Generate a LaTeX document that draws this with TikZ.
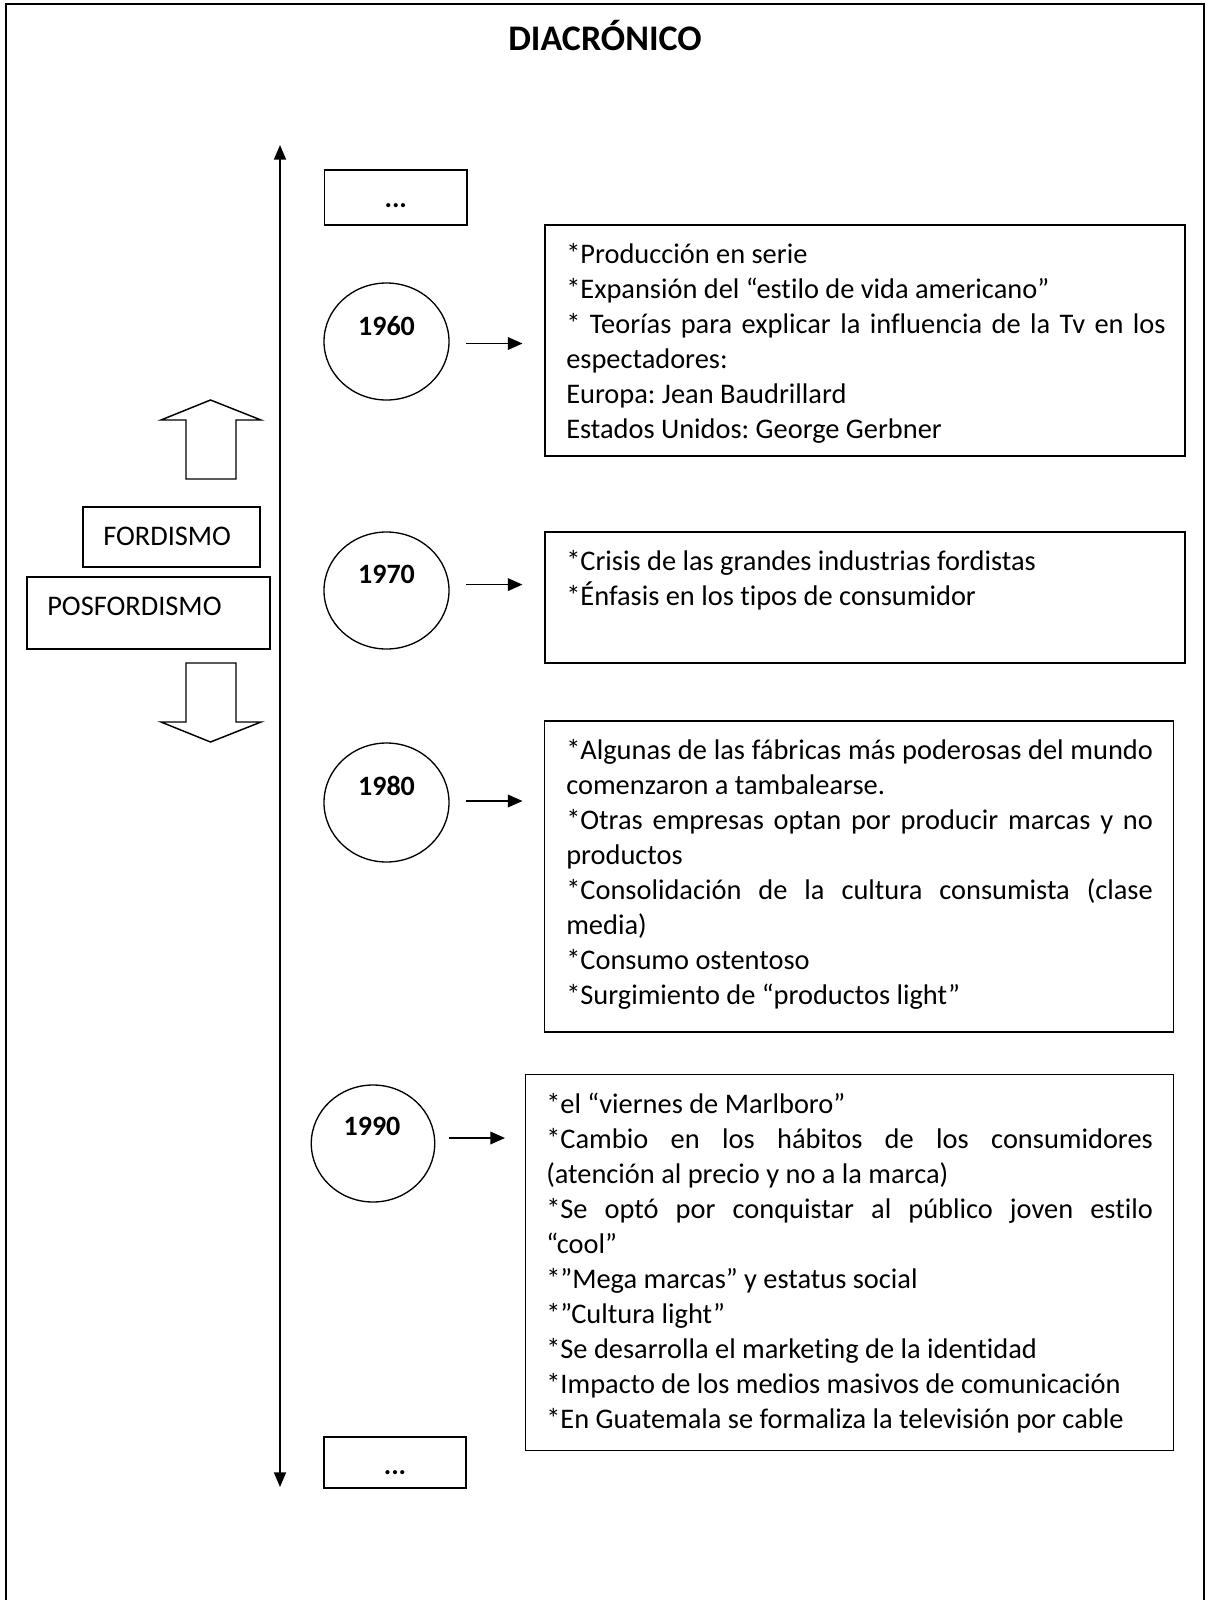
\documentclass[tikz,border=0pt]{standalone}
\usepackage{fontspec}
\setmainfont{Carlito}[Ligatures=NoCommon]
\usetikzlibrary{arrows.meta,shapes.geometric}
\newcommand{\jline}[1]{\makebox[\linewidth][s]{#1}}
\newcommand{\nl}{\par}
\begin{document}
\frenchspacing
\begin{tikzpicture}[x=0.75pt,y=-0.75pt,
  box/.style={draw, line width=1.1pt, rectangle, inner sep=0pt},
  oval/.style={draw, ellipse, line width=1pt, inner sep=0pt},
  body/.style={anchor=base west, inner sep=0pt, font=\fontsize{21.3}{26.3}\selectfont},
  yeartext/.style={anchor=base, inner sep=0pt, font=\fontsize{21}{24}\selectfont\bfseries},
  lbl/.style={anchor=base west, inner sep=0pt, font=\fontsize{21.3}{24}\selectfont},
  conn/.style={line width=1.1pt, -{Triangle[length=11pt,width=9.5pt]}},
  timeline/.style={line width=1.2pt, {Triangle[length=11pt,width=9pt]}-{Triangle[length=11pt,width=9pt]}},
  blockarrow/.style={draw, line width=1.1pt, line join=miter}]
\useasboundingbox (0,0) rectangle (1208,1600);
% outer frame (open at the bottom)
\draw[line width=1.5pt] (6,1600) -- (6,4) -- (1204,4) -- (1204,1600);
% title
\node[anchor=base, inner sep=0pt, font=\fontsize{27}{30}\selectfont\bfseries] (title) at (605,50) {DIACRÓNICO};
% timeline
\coordinate (tlTop) at (280,145);
\coordinate (tlBot) at (280,1487);
\draw[timeline] (tlBot) -- (tlTop);
% dots boxes
\node[box, minimum width=106.9pt, minimum height=41.25pt] (dtop) at (395.75,197.5) {};
\node[yeartext] (dtoptext) at (395.75,207) {...};
\node[box, minimum width=106.5pt, minimum height=38.25pt] (dbot) at (395,1462.5) {};
\node[yeartext] (dbottext) at (395,1474) {...};
% ellipses
\node[oval, minimum width=93.75pt, minimum height=87.75pt] (e1960) at (386.5,341.5) {};
\node[yeartext] (y1960) at (386.5,335.5) {1960};
\node[oval, minimum width=93.75pt, minimum height=87.75pt] (e1970) at (386.5,590.5) {};
\node[yeartext] (y1970) at (386.5,583.5) {1970};
\node[oval, minimum width=93.75pt, minimum height=89.25pt] (e1980) at (386.5,802.5) {};
\node[yeartext] (y1980) at (386.5,795) {1980};
\node[oval, minimum width=92.6pt, minimum height=87.75pt] (e1990) at (373,1143.5) {};
\node[yeartext] (y1990) at (372,1135) {1990};
% content boxes
\node[box, minimum width=480pt, minimum height=173.25pt] (b1960) at (865,340.5) {};
\node[box, minimum width=480pt, minimum height=98.25pt] (b1970) at (865,597.5) {};
\node[box, minimum width=471.75pt, minimum height=233.25pt] (b1980) at (859,876.5) {};
\node[box, minimum width=486pt, minimum height=282pt] (b1990) at (849.5,1262.5) {};
% connectors
\coordinate (a1s) at (466,343.5); \coordinate (a1e) at (522.5,343.5);
\coordinate (a2s) at (466,584.6); \coordinate (a2e) at (522.5,584.6);
\coordinate (a3s) at (466,801);   \coordinate (a3e) at (522.5,801);
\coordinate (a4s) at (448.5,1138); \coordinate (a4e) at (505,1138);
\draw[conn] (a1s) -- (a1e);
\draw[conn] (a2s) -- (a2e);
\draw[conn] (a3s) -- (a3e);
\draw[conn] (a4s) -- (a4e);
% texts
\node[body] (t1960) at (566,263) {\parbox[t]{449.6pt}{\parindent=0pt\frenchspacing
*Producción en serie\nl
*Expansión del “estilo de vida americano”\nl
\jline{* Teorías para explicar la influencia de la Tv en los}\nl
espectadores:\nl
Europa: Jean Baudrillard\nl
Estados Unidos: George Gerbner}};
\node[body] (t1970) at (566,570) {\parbox[t]{449.6pt}{\parindent=0pt\frenchspacing
*Crisis de las grandes industrias fordistas\nl
*Énfasis en los tipos de consumidor}};
\node[body] (t1980) at (566,759) {\parbox[t]{440pt}{\parindent=0pt\frenchspacing
\jline{*Algunas de las fábricas más poderosas del mundo}\nl
comenzaron a tambalearse.\nl
\jline{*Otras empresas optan por producir marcas y no}\nl
productos\nl
\jline{*Consolidación de la cultura consumista (clase}\nl
media)\nl
*Consumo ostentoso\nl
*Surgimiento de “productos light”}};
\node[body] (t1990) at (546,1113) {\parbox[t]{455pt}{\parindent=0pt\frenchspacing
*el “viernes de Marlboro”\nl
\jline{*Cambio en los hábitos de los consumidores}\nl
(atención al precio y no a la marca)\nl
\jline{*Se optó por conquistar al público joven estilo}\nl
“cool”\nl
*”Mega marcas” y estatus social\nl
*”Cultura light”\nl
*Se desarrolla el marketing de la identidad\nl
*Impacto de los medios masivos de comunicación\nl
*En Guatemala se formaliza la televisión por cable}};
% fordismo / posfordismo
\node[box, minimum width=132.75pt, minimum height=45pt] (ford) at (171.5,537) {};
\node[lbl] (fordtext) at (103,545) {FORDISMO};
\node[box, minimum width=182.25pt, minimum height=54pt] (posford) at (148.5,613) {};
\node[lbl] (posfordtext) at (47,615) {POSFORDISMO};
% block arrows
\draw[blockarrow] (210.5,400) -- (261,420) -- (236,420) -- (236,479) -- (186,479) -- (186,420) -- (161,420) -- cycle;
\draw[blockarrow] (186,663) -- (236,663) -- (236,722) -- (261,722) -- (210.5,742) -- (161,722) -- (186,722) -- cycle;
\end{tikzpicture}
\end{document}
